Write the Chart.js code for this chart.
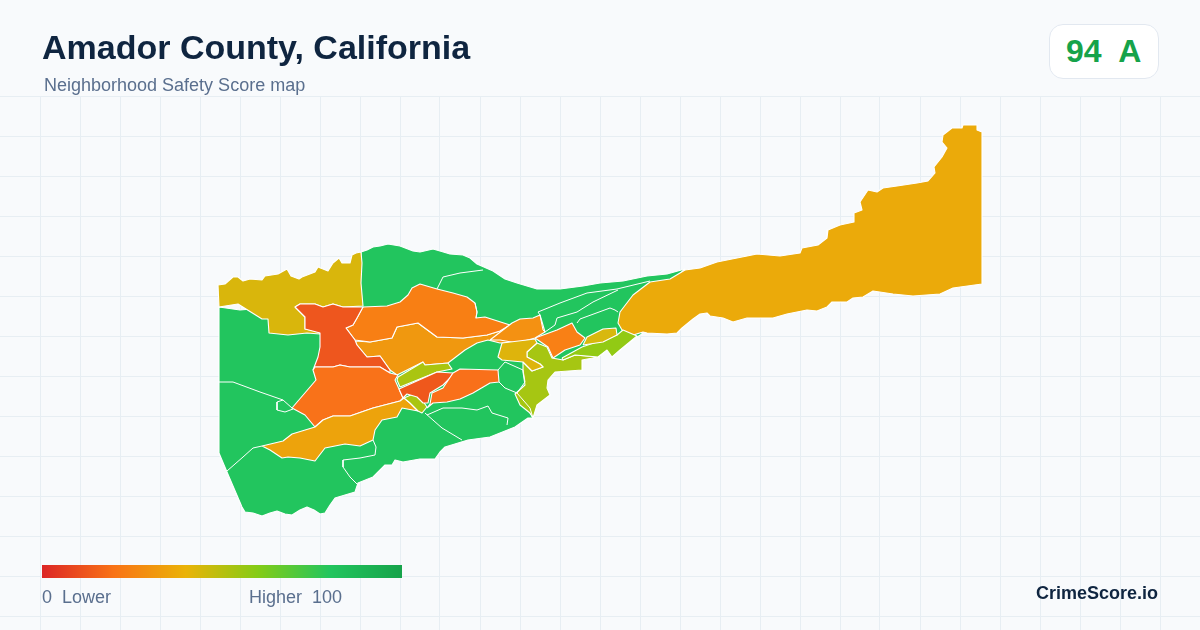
<!DOCTYPE html>
<html>
<head>
<meta charset="utf-8">
<title>Amador County, California</title>
<script src="https://cdn.jsdelivr.net/npm/chart.js@4/dist/chart.umd.min.js"></script>
<style>
html, body { margin: 0; padding: 0; background: #f8fafc; }
body { width: 1200px; height: 630px; position: relative; overflow: hidden; font-family: "Liberation Sans", Arial, sans-serif; }
#map { position: absolute; left: 0; top: 0; }
.txt { position: absolute; white-space: pre; line-height: 1; }
#title { left: 42px; top: 30px; font-size: 34px; font-weight: 700; color: #0f2540; }
#sub { left: 44px; top: 76px; font-size: 18px; color: #5a6f8e; }
#badge { position: absolute; left: 1049px; top: 24px; width: 108px; height: 53px; background: #fff; border: 1px solid #e2e8f0; border-radius: 14px; }
#score { left: 1066px; top: 35px; font-size: 32px; font-weight: 700; color: #16a34a; }
#bar { position: absolute; left: 42px; top: 565px; width: 360px; height: 13px; }
#lo { left: 42px; top: 588px; font-size: 18px; color: #5a6f8e; }
#hi { left: 249px; top: 588px; font-size: 18px; color: #5a6f8e; }
#brand { left: 1036px; top: 584px; font-size: 18px; font-weight: 700; color: #0f2540; }
</style>
</head>
<body>
<canvas id="map" width="1200" height="630"></canvas>
<div class="txt" id="title">Amador County, California</div>
<div class="txt" id="sub">Neighborhood Safety Score map</div>
<div id="badge"></div>
<div class="txt" id="score">94  A</div>
<div id="bar"></div>
<div class="txt" id="lo">0  Lower</div>
<div class="txt" id="hi">Higher  100</div>
<div class="txt" id="brand">CrimeScore.io</div>
<script>
// scale legend
var legendStops = [0, 20, 40, 60, 80, 100];
var legendColors = ['#dc2626', '#f97316', '#eab308', '#84cc16', '#22c55e', '#16a34a'];

// grid ticks, map units
var xTicks = [40, 80, 120, 160, 200, 240, 280, 320, 360, 400, 440, 480, 520, 560, 600, 640, 680, 720, 760, 800, 840, 880, 920, 960, 1000, 1040, 1080, 1120, 1160];
var yTicks = [96, 136, 176, 216, 256, 296, 336, 376, 416, 456, 496, 536, 576, 616];

// area outlines as x,y pairs, painted in this order
var countyBase = [219,307, 219,453, 227,472, 242,507, 245,512, 253,513, 262,516, 270,513, 277,511, 285,514, 292,515, 300,510, 307,507, 314,510, 320,514, 325,513, 330,505, 335,498, 345,495, 355,492, 358,483, 373,477, 385,465, 392,465, 395,460, 403,462, 420,459, 435,459, 440,452, 445,447, 468,440, 490,437, 515,427, 528,418, 533,418, 530,413, 537,405, 550,395, 547,388, 548,380, 555,372, 582,370, 582,360, 598,357, 607,350, 612,357, 620,350, 637,337, 642,334, 640,310, 685,269, 667,274, 647,276, 623,281, 600,283, 583,286, 560,289, 537,289, 517,283, 505,279, 493,271, 477,264, 470,258, 463,255, 450,254, 440,251, 433,249, 420,252, 413,251, 400,246, 388,244, 380,246, 373,247, 367,250, 361,252, 360,300, 240,310];
var northWest = [218,285, 225,284, 233,277, 238,277, 243,281, 250,279, 262,280, 265,276, 278,274, 287,269, 291,276, 299,279, 302,277, 315,272, 318,267, 328,271, 333,263, 339,258, 342,263, 350,263, 352,255, 356,253, 361,252, 362,263, 361,283, 363,306, 343,307, 333,304, 323,307, 315,304, 300,304, 295,307, 305,317, 305,329, 320,332, 320,334, 307,333, 288,335, 269,333, 268,319, 262,319, 238,304, 219,307];
var eastHigh = [685,270, 670,279, 650,282, 633,295, 620,312, 618,323, 622,330, 630,336, 643,332, 647,333, 667,334, 677,333, 682,328, 693,319, 700,314, 707,313, 710,316, 723,318, 733,322, 747,318, 773,318, 787,314, 807,310, 817,311, 827,307, 832,302, 847,302, 853,298, 863,297, 873,291, 893,294, 913,296, 940,294, 953,288, 982,284, 982,132, 977,130, 977,125, 963,125, 962,128, 952,128, 943,135, 942,142, 947,148, 942,157, 934,167, 935,173, 928,181, 917,183, 897,186, 883,188, 877,192, 868,190, 860,202, 862,210, 854,213, 854,222, 840,225, 828,230, 827,238, 818,245, 802,248, 800,253, 780,256, 757,254, 737,258, 717,262, 700,268];
var midAmber = [355,341, 370,342, 392,338, 397,327, 418,323, 437,337, 463,338, 487,335, 500,331, 512,324, 512,342, 500,343, 488,340, 477,343, 465,350, 448,363, 425,365, 423,362, 397,375, 390,370, 380,356, 367,357, 357,345];
var northOrange = [363,307, 387,306, 400,302, 408,295, 412,288, 420,284, 437,289, 453,293, 467,297, 475,303, 477,312, 476,318, 485,317, 510,325, 500,331, 487,335, 463,338, 437,337, 418,323, 397,327, 392,338, 370,342, 355,340, 346,328, 353,325, 357,318];
var centerRed = [295,307, 300,304, 315,304, 323,307, 333,304, 343,307, 363,307, 357,318, 353,325, 346,328, 355,340, 357,345, 367,357, 380,356, 390,370, 390,373, 380,367, 350,367, 340,365, 333,367, 315,367, 313,370, 318,357, 320,347, 320,333, 305,329, 305,317];
var bigOrange = [313,370, 315,367, 333,367, 340,365, 350,367, 380,367, 390,373, 398,375, 395,380, 403,398, 400,401, 373,408, 350,416, 333,416, 323,420, 315,427, 305,415, 292,408, 316,380];
var southAmber = [262,446, 283,441, 292,434, 315,427, 323,420, 333,416, 350,416, 373,408, 400,401, 404,398, 410,403, 418,411, 402,408, 397,417, 382,420, 375,430, 373,440, 360,446, 345,444, 325,448, 315,461, 300,458, 288,457, 282,458, 270,450];
var smallLimeWest = [404,398, 413,394, 420,397, 427,407, 422,413, 418,411, 410,403];
var limeCenter = [398,377, 423,362, 425,365, 448,363, 452,369, 437,372, 400,387, 397,380];
var redSmall = [399,389, 437,372, 453,373, 450,378, 443,385, 430,393, 428,403, 423,403, 417,397, 407,394, 403,398];
var orangeStrip = [427,408, 430,404, 432,393, 443,388, 453,373, 460,369, 498,370, 499,382, 490,383, 473,393, 460,399, 447,402, 433,403];
var northEastOrange = [490,340, 512,323, 520,319, 533,318, 540,315, 545,332, 535,338, 517,343, 500,340];
var limeEast = [537,343, 527,352, 527,357, 540,364, 543,367, 532,371, 523,362, 523,372, 525,385, 515,394, 520,405, 530,413, 533,418, 537,405, 550,395, 547,388, 548,380, 555,372, 582,370, 582,360, 598,357, 575,355, 563,360, 552,358, 547,347];
var mustardEast = [502,343, 535,339, 537,343, 527,352, 527,357, 540,364, 543,367, 532,371, 523,362, 502,360, 498,357];
var orangeEast = [535,338, 557,330, 572,323, 577,332, 585,338, 580,345, 565,350, 553,358, 548,347];
var limeFar = [562,358, 582,347, 617,335, 623,330, 637,336, 620,350, 612,357, 607,350, 598,357, 575,355, 563,360];
var mustardStrip = [583,345, 587,337, 603,329, 616,328, 617,335, 603,342];

// thin boundaries between the green areas
var lineWest = [219,382, 233,382, 260,392, 283,400, 292,408];
var lineEnclave = [283,400, 277,402, 277,410, 285,412, 293,409];
var lineSouthWest = [227,471, 243,457, 253,448, 262,446];
var lineSouth = [373,440, 376,447, 375,455, 360,458, 343,460, 343,467, 350,477, 358,485];
var lineSouthEastA = [425,413, 442,428, 462,440];
var lineSouthEastB = [427,415, 443,408, 462,408, 477,410, 488,406, 492,413, 508,418, 507,425];
var linePocket = [498,370, 505,362, 523,370, 525,382, 517,393, 505,388, 499,382];
var linePocketSouth = [517,393, 530,408, 533,418];
var lineNorthA = [437,289, 443,277, 460,273, 483,270];
var lineNorthB = [540,315, 538,312, 560,303, 587,293, 617,289, 650,281];
var lineNorthC = [545,332, 555,325, 557,318, 577,312, 593,302, 618,290];
var lineNorthD = [577,323, 580,319, 610,308, 615,310, 618,312];
var lineNorthE = [476,318, 477,312, 475,303];
var lineEastSide = [540,315, 543,330, 545,332];

var areas = [
    [countyBase, '#22c55e'],
    [northWest, '#d9b60c'],
    [eastHigh, '#ebaa0a'],
    [midAmber, '#f0980f'],
    [northOrange, '#f87f14'],
    [centerRed, '#ee561e'],
    [bigOrange, '#f97219'],
    [southAmber, '#eda30c'],
    [smallLimeWest, '#a9c511'],
    [limeCenter, '#aac510'],
    [redSmall, '#ef581c'],
    [orangeStrip, '#f9701a'],
    [northEastOrange, '#f49112'],
    [limeEast, '#a6c612'],
    [mustardEast, '#deb40c'],
    [orangeEast, '#f98015'],
    [limeFar, '#92ca14'],
    [mustardStrip, '#d8b80e']
];
var boundaries = [lineWest, lineEnclave, lineSouthWest, lineSouth, lineSouthEastA, lineSouthEastB, linePocket, linePocketSouth, lineNorthA, lineNorthB, lineNorthC, lineNorthD, lineNorthE, lineEastSide];

function toPoints(list) {
    var pts = [];
    for (var i = 0; i < list.length; i += 2) {
        pts.push({x: list[i], y: list[i + 1]});
    }
    return pts;
}

var datasets = [];
var total = areas.length + boundaries.length;
areas.forEach(function(a, i) {
    var pts = toPoints(a[0]);
    pts.push(pts[0]);
    datasets.push({
        data: pts,
        showLine: true,
        fill: 'shape',
        backgroundColor: a[1],
        borderColor: '#ffffff',
        borderWidth: 1.1,
        borderJoinStyle: 'round',
        pointRadius: 0,
        order: total - i
    });
});
boundaries.forEach(function(b, i) {
    datasets.push({
        data: toPoints(b),
        showLine: true,
        fill: false,
        borderColor: '#ffffff',
        borderWidth: 1,
        pointRadius: 0,
        order: boundaries.length - i
    });
});

var gridColor = '#e7eef3';
new Chart(document.getElementById('map').getContext('2d'), {
    type: 'scatter',
    data: {datasets: datasets},
    options: {
        responsive: false,
        animation: false,
        layout: {padding: {top: 96}},
        plugins: {legend: {display: false}, tooltip: {enabled: false}, title: {display: false}},
        scales: {
            x: {
                type: 'linear', min: 0, max: 1200,
                border: {display: false},
                grid: {color: gridColor, lineWidth: 1, drawTicks: false},
                ticks: {display: false},
                afterBuildTicks: function(axis) { axis.ticks = xTicks.map(function(v) { return {value: v}; }); }
            },
            y: {
                type: 'linear', min: 96, max: 630, reverse: true,
                border: {display: false},
                grid: {color: gridColor, lineWidth: 1, drawTicks: false},
                ticks: {display: false},
                afterBuildTicks: function(axis) { axis.ticks = yTicks.map(function(v) { return {value: v}; }); }
            }
        }
    }
});

var stops = legendColors.map(function(c, i) { return c + ' ' + legendStops[i] + '%'; });
document.getElementById('bar').style.background = 'linear-gradient(to right, ' + stops.join(', ') + ')';
</script>
</body>
</html>
